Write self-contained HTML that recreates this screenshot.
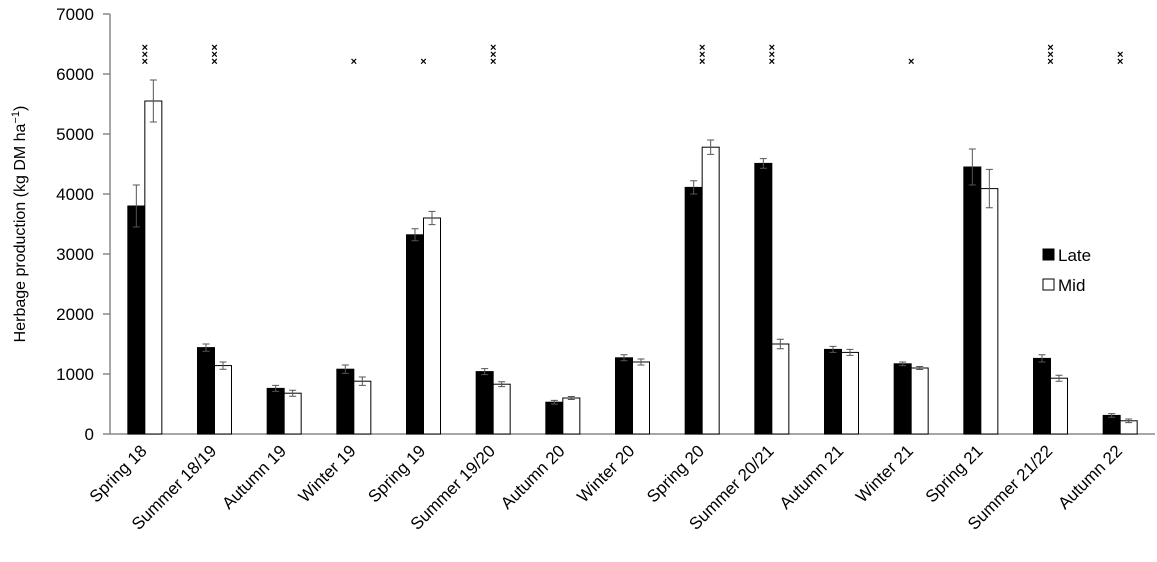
<!DOCTYPE html>
<html><head><meta charset="utf-8"><style>
html,body{margin:0;padding:0;background:#fff;}
svg{display:block;font-family:"Liberation Sans",Arial,sans-serif;}
</style></head><body>
<svg id="chart" width="1157" height="562" viewBox="0 0 1157 562" xmlns="http://www.w3.org/2000/svg">
<g id="axes"></g><g id="bars"></g><g id="sig"></g><g id="legend"></g>
</svg>
<script>
const categories=["Spring 18","Summer 18/19","Autumn 19","Winter 19","Spring 19","Summer 19/20","Autumn 20","Winter 20","Spring 20","Summer 20/21","Autumn 21","Winter 21","Spring 21","Summer 21/22","Autumn 22"];
const lateValues=[3800,1440,760,1080,3320,1040,530,1270,4110,4510,1410,1170,4450,1260,310];
const lateErrors=[350,60,50,70,100,50,30,50,110,80,50,30,300,60,30];
const midValues=[5550,1140,680,880,3600,830,600,1200,4780,1500,1360,1100,4090,930,220];
const midErrors=[350,60,50,70,110,40,25,50,120,80,50,25,320,50,30];
const sigStars=[3,3,0,1,1,3,0,0,3,3,0,1,0,3,2];
const yTicks=[0,1000,2000,3000,4000,5000,6000,7000];

const NS="http://www.w3.org/2000/svg";
const X0=110,X1=1155,Y0=434,Y1=14,YMAX=7000;
const band=(X1-X0)/categories.length;
const xc=i=>X0+band*(i+0.5);
const y=v=>Y0-(v/YMAX)*(Y0-Y1);
function mk(tag,attrs,parent,txt){const e=document.createElementNS(NS,tag);for(const k in attrs)e.setAttribute(k,attrs[k]);if(txt!==undefined)e.textContent=txt;parent.appendChild(e);return e;}
const axes=document.getElementById('axes'),bars=document.getElementById('bars'),sig=document.getElementById('sig'),leg=document.getElementById('legend');

let a=mk('line',{x1:X0,y1:Y1,x2:X0,y2:Y0,stroke:'#888','stroke-width':1.5},axes);


a=mk('line',{x1:X0,y1:Y0,x2:X1,y2:Y0,stroke:'#888','stroke-width':1.5},axes);


yTicks.forEach(t=>{
  const tk=mk('line',{x1:X0-7,y1:y(t),x2:X0,y2:y(t),stroke:'#888','stroke-width':1.5},axes);
  
  
  const lb=mk('text',{x:X0-16,y:y(t)+6,'text-anchor':'end','font-size':17,fill:'#000'},axes,String(t));
  
  
});
const yt=mk('text',{x:0,y:0,transform:'translate(25,224) rotate(-90)','text-anchor':'middle','font-size':16,fill:'#000'},axes);


yt.innerHTML='Herbage production (kg DM ha<tspan dy="-6" font-size="11">−1</tspan><tspan dy="6">)</tspan>';

const BW=17;
categories.forEach((c,i)=>{
  const cx=xc(i);
  const lb=mk('text',{x:0,y:0,transform:`translate(${cx+3},${Y0+18}) rotate(-45)`,'text-anchor':'end','font-size':17,fill:'#000'},axes,c);
  
  
  [[lateValues,lateErrors,'#000','#000',cx-BW,'bar-late'],[midValues,midErrors,'#fff','#000',cx,'bar-mid']].forEach(([vals,errs,fill,stroke,bx,nm])=>{
    const v=vals[i],e=errs[i];
    const r=mk('rect',{x:bx,y:y(v),width:BW,height:Y0-y(v),fill:fill,stroke:stroke,'stroke-width':1},bars);
    
    
    const ex=bx+BW/2;
    const eb=mk('path',{d:`M${ex},${y(v+e)}V${y(v-e)}M${ex-3.5},${y(v+e)}H${ex+3.5}M${ex-3.5},${y(v-e)}H${ex+3.5}`,stroke:'#555','stroke-width':1,fill:'none'},bars);
    
    
  });
  for(let s=0;s<sigStars[i];s++){
    const st=mk('text',{x:cx,y:65-s*7,'text-anchor':'middle','font-size':11,'font-weight':'bold',fill:'#000'},sig,'×');
    
    
  }
});

[['Late','#000',255],['Mid','#fff',285]].forEach(([n,f,ly])=>{
  const r=mk('rect',{x:1043,y:ly-6,width:11,height:11,fill:f,stroke:'#000','stroke-width':1},leg);
  
  
  const t=mk('text',{x:1058,y:ly+6,'font-size':17,fill:'#000'},leg,n);
  
  
});
</script>
</body></html>
